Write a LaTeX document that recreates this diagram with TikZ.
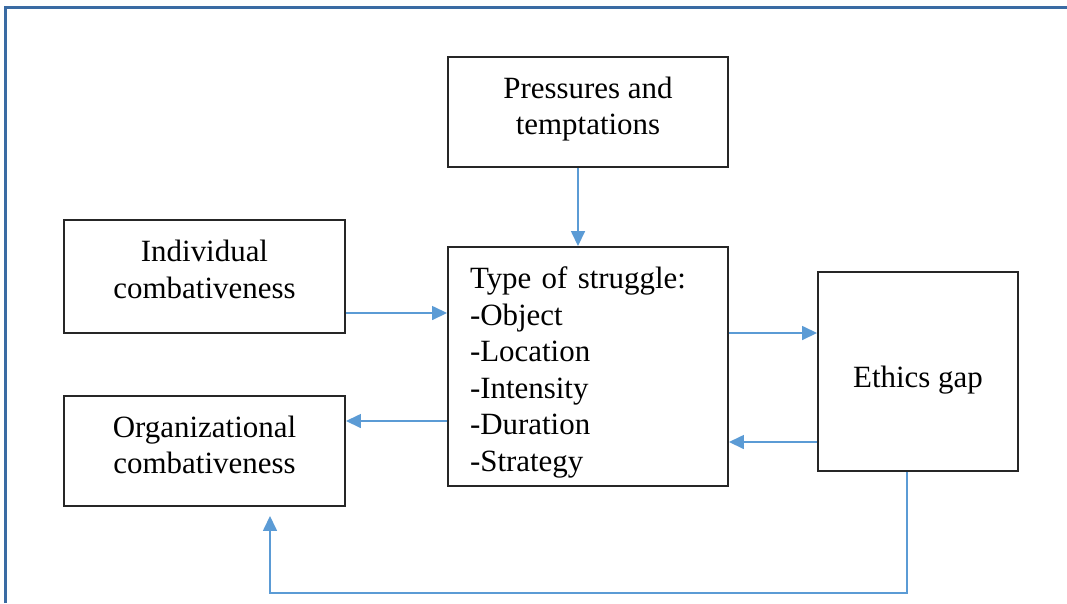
\documentclass[tikz,border=0pt]{standalone}
\usepackage{fontspec}
\setmainfont{Liberation Serif}
\usetikzlibrary{arrows.meta}
\definecolor{framecol}{HTML}{3A6BA3}
\definecolor{flowcol}{HTML}{5B9BD5}
\newcommand{\topgap}[1]{\rule{0pt}{#1}}
\newcommand{\botgap}[1]{\rule[-#1]{0pt}{#1}}
\tikzset{
  box/.style={draw=black!85,line width=1.1pt,inner sep=0pt,align=center,
    font=\fontsize{17.6}{20.8}\selectfont},
  flow/.style={draw=flowcol,line width=0.9pt,-{Triangle[length=0.3cm,width=0.28cm]}}
}

\begin{document}
\begin{tikzpicture}
\useasboundingbox (0,0) rectangle (21.34,-12.06);
\draw[framecol,line width=2.2pt] (0.11,-12.06) -- (0.11,-0.15) -- (21.34,-0.15);
\node[box,minimum width=5.6cm,minimum height=2.2cm] (press) at (11.76,-2.24) {Pressures and\\temptations\botgap{7.2pt}};
\node[box,minimum width=5.62cm,minimum height=2.26cm] (indiv) at (4.09,-5.53) {Individual\\combativeness\botgap{8pt}};
\node[box,minimum width=5.62cm,minimum height=2.2cm] (org) at (4.09,-9.02) {Organizational\\combativeness\botgap{7pt}};
\node[box,minimum width=5.6cm,minimum height=4.78cm,text width=4.72cm,inner xsep=0.44cm,align=left] (fight) at (11.76,-7.33)
  {\topgap{19pt}Type of struggle:\\-Object\\-Location\\-Intensity\\-Duration\\-Strategy};
\node[box,minimum width=4cm,minimum height=3.98cm] (ethics) at (18.36,-7.43) {\topgap{22.4pt}Ethics gap};
\coordinate (p1) at ([xshift=-0.2cm]press.south);
\coordinate (i1) at ([yshift=-0.73cm]indiv.east);
\coordinate (o1) at ([yshift=-1.09cm]fight.west);
\coordinate (e1) at ([yshift=0.67cm]fight.east);
\coordinate (e2) at ([yshift=-1.41cm]ethics.west);
\coordinate (f1) at ([xshift=-0.22cm]ethics.south);
\coordinate (f2) at ([xshift=1.31cm,yshift=-0.18cm]org.south);
\coordinate (fb) at (0,-11.86);
\draw[flow] (p1) -- (p1 |- fight.north);
\draw[flow] (i1) -- (i1 -| fight.west);
\draw[flow] (o1) -- (o1 -| org.east);
\draw[flow] (e1) -- (e1 -| ethics.west);
\draw[flow] (e2) -- (e2 -| fight.east);
\draw[flow] (f1) -- (f1 |- fb) -| (f2);
\end{tikzpicture}
\end{document}
